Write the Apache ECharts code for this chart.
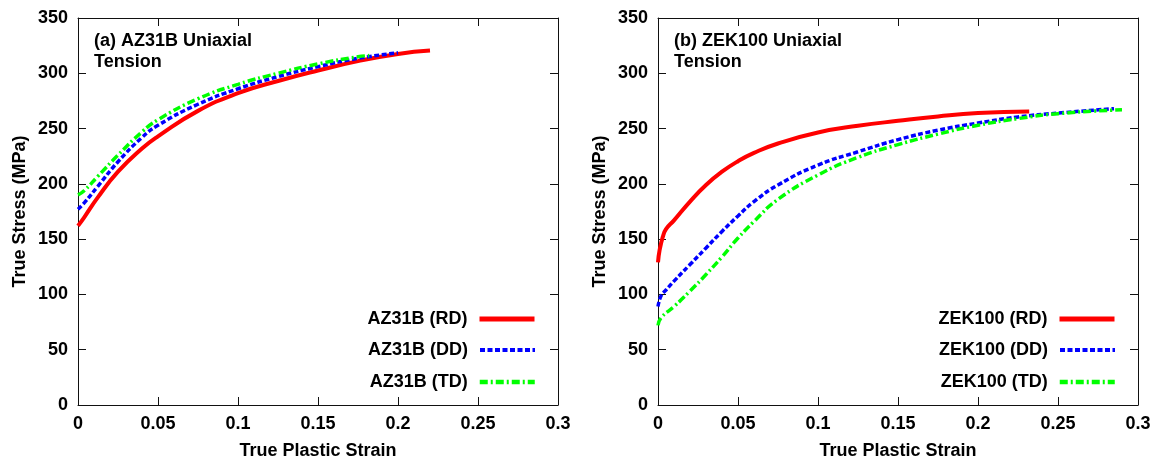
<!DOCTYPE html>
<html>
<head>
<meta charset="utf-8">
<script src="https://cdn.jsdelivr.net/npm/echarts@6/dist/echarts.min.js"></script>
<style>
  html, body { margin: 0; padding: 0; background: #fff; }
  #chart { width: 1159px; height: 465px; }
</style>
</head>
<body>
<div id="chart"></div>
<script>
// Tick labels
const strainTicks = ['0', '0.05', '0.1', '0.15', '0.2', '0.25', '0.3'];
const stressTicks = ['0', '50', '100', '150', '200', '250', '300', '350'];

// (a) AZ31B uniaxial tension: true plastic strain vs true stress (MPa)
const az31bRdStrain = [0, 0.004, 0.0125, 0.025, 0.04, 0.05, 0.075, 0.1, 0.125, 0.15, 0.175, 0.2, 0.22];
const az31bRdStress = [162, 170, 188, 211, 232, 243, 266, 282, 293, 302.5, 311, 317.5, 320.5];
const az31bDdStrain = [0, 0.004, 0.0125, 0.025, 0.04, 0.05, 0.075, 0.1, 0.125, 0.15, 0.175, 0.2];
const az31bDdStress = [177, 183, 198, 220, 242, 253, 272, 286, 297, 306, 313.5, 318.5];
const az31bTdStrain = [0, 0.004, 0.0125, 0.025, 0.04, 0.05, 0.075, 0.1, 0.125, 0.15, 0.175, 0.182];
const az31bTdStress = [190, 194, 207, 226, 247, 258, 277, 290, 300, 308.5, 315, 316];

// (b) ZEK100 uniaxial tension
const zek100RdStrain = [0, 0.001, 0.003, 0.005, 0.01, 0.02, 0.03, 0.04, 0.05, 0.06, 0.075, 0.1, 0.125, 0.15, 0.175, 0.2, 0.232];
const zek100RdStress = [129, 140, 152, 159, 167, 184, 199, 211, 220.5, 228, 236.5, 246.5, 252.5, 257, 261, 264, 265.5];
const zek100DdStrain = [0, 0.002, 0.005, 0.01, 0.02, 0.03, 0.04, 0.05, 0.06, 0.075, 0.1, 0.125, 0.15, 0.175, 0.2, 0.225, 0.25, 0.285];
const zek100DdStress = [89, 99, 104, 112, 127, 142, 157, 171, 184, 199, 217, 229, 240, 248.5, 255, 260.5, 264, 268];
const zek100TdStrain = [0, 0.002, 0.01, 0.02, 0.03, 0.04, 0.05, 0.06, 0.075, 0.1, 0.125, 0.15, 0.175, 0.2, 0.225, 0.25, 0.29];
const zek100TdStress = [72, 79, 89, 103, 118, 134, 151, 166, 186, 208, 224, 235.5, 245, 253, 259, 263.5, 267];

const seriesNames = ['AZ31B (RD)', 'AZ31B (DD)', 'AZ31B (TD)', 'ZEK100 (RD)', 'ZEK100 (DD)', 'ZEK100 (TD)'];

const FONT = "'Liberation Sans', Arial, Helvetica, sans-serif";
const RED = '#ff0000', BLUE = '#0000ff', GREEN = '#00ff00';

const pairs = (xs, ys) => xs.map((x, i) => [x, ys[i]]);

const styleRD = { color: RED, width: 4, type: 'solid' };
const styleDD = { color: BLUE, width: 3.5, type: [5, 2.5] };
const styleTD = { color: GREEN, width: 3.5, type: [8, 3, 2, 3] };

function lineSeries(name, gridIdx, data, ls) {
  return {
    type: 'line', name: name,
    xAxisIndex: gridIdx * 2, yAxisIndex: gridIdx * 2,
    data: data, symbol: 'none', showSymbol: false,
    smooth: true,
    color: ls.color,
    lineStyle: ls,
    animation: false, silent: true, z: 3
  };
}

const axisLine = { show: true, onZero: false, lineStyle: { color: '#111', width: 1 } };
const tick = { show: true, inside: true, length: 8, lineStyle: { color: '#111', width: 1 } };
const labelFont = { fontFamily: FONT, fontWeight: 'bold', fontSize: 18, color: '#000' };

function xAxes(gridIdx) {
  const base = { type: 'value', gridIndex: gridIdx, min: 0, max: 0.3, interval: 0.05, splitLine: { show: false }, axisLine: axisLine, axisTick: tick };
  return [
    Object.assign({}, base, {
      position: 'bottom',
      name: 'True Plastic Strain', nameLocation: 'middle', nameGap: 37,
      nameTextStyle: labelFont,
      axisLabel: Object.assign({ margin: 10, showMaxLabel: true, showMinLabel: true,
        formatter: v => strainTicks[Math.round(v / 0.05)] }, labelFont)
    }),
    Object.assign({}, base, { position: 'top', axisLabel: { show: false } })
  ];
}

function yAxes(gridIdx) {
  const base = { type: 'value', gridIndex: gridIdx, min: 0, max: 350, interval: 50, splitLine: { show: false }, axisLine: axisLine, axisTick: tick };
  return [
    Object.assign({}, base, {
      position: 'left',
      name: 'True Stress (MPa)', nameLocation: 'middle', nameGap: 49, nameRotate: 90,
      nameTextStyle: labelFont,
      axisLabel: Object.assign({ margin: 10, showMaxLabel: true, showMinLabel: true,
        formatter: v => stressTicks[Math.round(v / 50)] }, labelFont)
    }),
    Object.assign({}, base, { position: 'right', axisLabel: { show: false } })
  ];
}

// One legend per entry so the label ends and line samples stay right-aligned
function legendFor(name, right, top, lineWidth) {
  return {
    data: [name], orient: 'vertical', align: 'right',
    right: right, top: top, padding: 0,
    itemWidth: 55, itemHeight: 20, itemGap: 0,
    selectedMode: false,
    itemStyle: { opacity: 0 },
    lineStyle: { width: lineWidth },
    textStyle: Object.assign({ padding: [0, 7, 0, 0] }, labelFont)
  };
}

const rowTops = [310, 341, 373];

const option = {
  backgroundColor: '#fff',
  animation: false,
  title: [
    { text: '(a) AZ31B Uniaxial\nTension', left: 94, top: 31, padding: 0,
      textStyle: Object.assign({ lineHeight: 21 }, labelFont) },
    { text: '(b) ZEK100 Uniaxial\nTension', left: 674, top: 31, padding: 0,
      textStyle: Object.assign({ lineHeight: 21 }, labelFont) }
  ],
  grid: [
    { left: 78, top: 18, width: 480, height: 389, show: false },
    { left: 658, top: 18, width: 480, height: 389, show: false }
  ],
  xAxis: [...xAxes(0), ...xAxes(1)],
  yAxis: [...yAxes(0), ...yAxes(1)],
  legend: [
    legendFor(seriesNames[0], 622, rowTops[0], 5),
    legendFor(seriesNames[1], 622, rowTops[1], 4),
    legendFor(seriesNames[2], 622, rowTops[2], 4.5),
    legendFor(seriesNames[3], 42, rowTops[0], 5),
    legendFor(seriesNames[4], 42, rowTops[1], 4),
    legendFor(seriesNames[5], 42, rowTops[2], 4.5)
  ],
  series: [
    lineSeries(seriesNames[0], 0, pairs(az31bRdStrain, az31bRdStress), styleRD),
    lineSeries(seriesNames[1], 0, pairs(az31bDdStrain, az31bDdStress), styleDD),
    lineSeries(seriesNames[2], 0, pairs(az31bTdStrain, az31bTdStress), styleTD),
    lineSeries(seriesNames[3], 1, pairs(zek100RdStrain, zek100RdStress), styleRD),
    lineSeries(seriesNames[4], 1, pairs(zek100DdStrain, zek100DdStress), styleDD),
    lineSeries(seriesNames[5], 1, pairs(zek100TdStrain, zek100TdStress), styleTD)
  ]
};

const chart = echarts.init(document.getElementById('chart'), null, { renderer: 'canvas' });
chart.setOption(option);
</script>
</body>
</html>
